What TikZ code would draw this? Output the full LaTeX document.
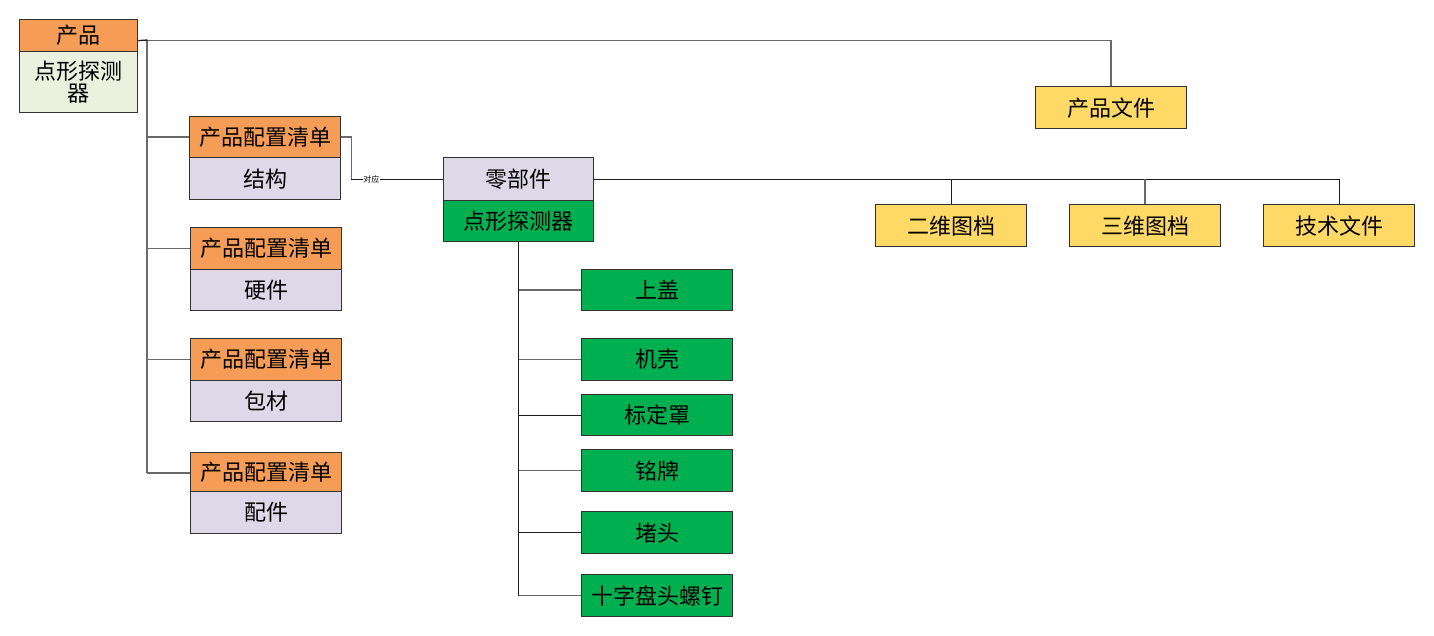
\documentclass[tikz,border=0pt]{standalone}
\usepackage{fontspec}
\newfontfamily\cjk{Noto Sans CJK SC}
\definecolor{corange}{RGB}{245,157,86}
\definecolor{clav}{RGB}{221,217,232}
\definecolor{clgreen}{RGB}{235,241,222}
\definecolor{cgreen}{RGB}{0,176,80}
\definecolor{cyellow}{RGB}{255,217,102}
\definecolor{cborder}{RGB}{50,50,50}
\definecolor{cline}{RGB}{30,30,30}
\definecolor{cgline}{RGB}{105,105,105}
\tikzset{
  box/.style={draw=cborder, line width=1.3pt, anchor=north west, inner sep=0pt,
    font=\cjk\fontsize{22}{25}\selectfont, text=black, align=center},
  conn/.style={draw=cline, line width=1.3pt},
  gconn/.style={draw=cgline, line width=1.5pt},
}
\begin{document}
\begin{tikzpicture}[x=1pt,y=-1pt]
\useasboundingbox[fill=white] (0,0) rectangle (1434,635);
% product
\node[box, fill=corange, minimum width=118, minimum height=32] (p1) at (19,19) {产品};
\node[box, fill=clgreen, minimum width=118, minimum height=61, text width=112] (p1b) at (19,51) {点形探测\\[-3pt]器};
\node[box, fill=cyellow, minimum width=151, minimum height=42] (pdoc) at (1035,86) {产品文件};
% configuration lists
\node[box, fill=corange, minimum width=151, minimum height=41] (c1) at (189,116) {产品配置清单};
\node[box, fill=clav, minimum width=151, minimum height=42] (c1b) at (189,157) {结构};
\node[box, fill=corange, minimum width=151, minimum height=42] (c2) at (190,227) {产品配置清单};
\node[box, fill=clav, minimum width=151, minimum height=41] (c2b) at (190,269) {硬件};
\node[box, fill=corange, minimum width=151, minimum height=42] (c3) at (190,338) {产品配置清单};
\node[box, fill=clav, minimum width=151, minimum height=41] (c3b) at (190,380) {包材};
\node[box, fill=corange, minimum width=151, minimum height=39] (c4) at (190,452) {产品配置清单};
\node[box, fill=clav, minimum width=151, minimum height=42] (c4b) at (190,491) {配件};
% parts
\node[box, fill=clav, minimum width=150, minimum height=43] (z) at (443,157) {零部件};
\node[box, fill=cgreen, minimum width=150, minimum height=41] (zb) at (443,200) {点形探测器};
% documents
\node[box, fill=cyellow, minimum width=151, minimum height=42] (d1) at (875,204) {二维图档};
\node[box, fill=cyellow, minimum width=151, minimum height=42] (d2) at (1069,204) {三维图档};
\node[box, fill=cyellow, minimum width=151, minimum height=42] (d3) at (1263,204) {技术文件};
% components
\node[box, fill=cgreen, minimum width=151, minimum height=41] (g1) at (581,269) {上盖};
\node[box, fill=cgreen, minimum width=151, minimum height=42] (g2) at (581,338) {机壳};
\node[box, fill=cgreen, minimum width=151, minimum height=41] (g3) at (581,394) {标定罩};
\node[box, fill=cgreen, minimum width=151, minimum height=42] (g4) at (581,449) {铭牌};
\node[box, fill=cgreen, minimum width=151, minimum height=42] (g5) at (581,511) {堵头};
\node[box, fill=cgreen, minimum width=151, minimum height=42] (g6) at (581,574) {十字盘头螺钉};
% connectors
\coordinate (j0) at (147,40);
\coordinate (jend) at (147,473);
\draw[gconn] ([yshift=-5pt]p1.east) -| (pdoc.north);
\draw[conn] ([yshift=-5pt]p1.east) -- (j0) -- (jend);
\draw[gconn] (j0 |- c1.west) -- (c1.west);
\draw[gconn] (j0 |- c2.west) -- (c2.west);
\draw[gconn] (j0 |- c3.west) -- (c3.west);
\draw[gconn] (jend) -- (jend -| c4.west);
\draw[gconn] (c1.east) -- ++(10,0) coordinate (k1) -- (k1 |- z.west);
\draw[conn] (k1 |- z.west) -- node[pos=0.22, fill=white, inner sep=0.3pt, font=\cjk\fontsize{8}{9}\selectfont] (lab) {对应} (z.west);
\draw[conn] (z.east) -- (z.east -| d3.north) -- (d3.north);
\draw[conn] (z.east -| d1.north) -- (d1.north);
\draw[gconn] (z.east -| d2.north) -- (d2.north);
\draw[conn] (zb.south) -- (zb.south |- g6.west);
\draw[gconn] (zb.south |- g1.west) -- (g1.west);
\draw[gconn] (zb.south |- g2.west) -- (g2.west);
\draw[conn] (zb.south |- g3.west) -- (g3.west);
\draw[gconn] (zb.south |- g4.west) -- (g4.west);
\draw[conn] (zb.south |- g5.west) -- (g5.west);
\draw[gconn] (zb.south |- g6.west) -- (g6.west);
\end{tikzpicture}
\end{document}
